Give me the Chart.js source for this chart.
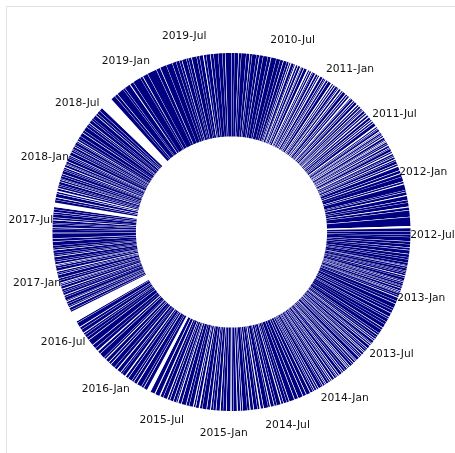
<!DOCTYPE html>
<html><head><meta charset="utf-8">
<script src="https://cdn.jsdelivr.net/npm/chart.js@4"></script>
<style>
html,body{margin:0;padding:0;background:#fff;overflow:hidden;}
#wrap{position:relative;width:455px;height:453px;}
#frame{position:absolute;left:6px;top:6px;width:460px;height:460px;border-left:1.5px solid #e2e2dc;border-top:1.5px solid #e2e2dc;}
canvas{position:absolute;left:0;top:0;}
</style></head><body>
<div id="wrap"><div id="frame"></div><canvas id="c" width="455" height="453"></canvas></div>
<script>
const startDate = '2010-01-05';
// lengths (days) of consecutive observed runs, clockwise from the top
const runDays = [
 9,12,7,15,10,6,13,8,11,14,9,16,12,9,10,
 6,4,8,3,5,7,2,6,9,4,5,3,7,6,4,8,5,3,6,10,4,5,7,3,6,4,9,5,6,3,7,4,8,5,6,4,3,7,5,6,8,4,5,10,
 4,3,6,2,5,3,4,7,3,2,5,4,6,3,8,4,5,3,6,4,9,5,12,8,9,
 14,6,18,5,9,12,7,12,8,20,28,
 9,11,6,13,8,10,7,12,9,6,10,7,2,5,7,3,4,6,5,8,3,4,6,2,5,7,4,3,6,5,11,8,13,7,9,12,6,10,8,11,7,12,6,7,
 6,4,8,3,5,9,4,6,3,7,5,4,10,3,6,5,8,4,3,7,6,4,9,5,3,6,8,4,5,7,3,6,4,9,5,6,4,8,12,10,14,11,16,7,
 9,6,12,7,10,5,14,8,6,11,9,7,13,5,8,10,6,12,9,7,11,8,6,10,13,7,9,5,12,8,14,9,4,
 8,10,6,12,9,14,14,11,7,15,9,6,13,8,10,5,12,9,14,7,11,6,16,8,10,12,18,9,
 9,6,11,8,14,5,5,8,4,7,6,3,9,5,7,4,6,8,5,3,7,6,10,4,5,8,6,3,7,5,9,4,6,8,5,7,12,8,15,3,
 7,5,9,4,8,6,10,5,7,7,8,6,10,5,7,6,4,8,5,3,7,6,9,4,5,7,3,6,8,5,4,10,6,3,7,5,8,4,6,9,12,7,13,
 8,5,10,6,12,7,9,11,14,9,22,6,18,11,25,8,16,30,12,20,19,12,
 10,7,13,6,9,15,8,11,7,12,9,14,12,8,18
];
// lengths (days) of the missing stretch following each run
const gapDays = [
 1,2,1,1,2,1,1,2,1,1,2,1,1,2,1,
 2,3,1,4,2,3,1,2,5,2,3,1,3,2,4,2,1,3,2,4,3,2,1,3,4,2,3,2,5,1,3,2,4,2,3,1,3,2,4,3,2,3,2,5,
 2,1,3,2,1,2,3,1,2,2,1,3,2,1,2,4,1,2,3,1,2,3,2,3,1,
 2,3,1,2,3,2,1,3,2,2,7,
 1,1,1,1,1,1,1,1,1,1,1,1,2,1,1,1,1,2,1,1,2,1,1,1,2,1,1,1,1,2,1,2,1,1,2,1,1,1,1,2,1,1,2,1,
 2,2,1,2,2,2,1,2,2,2,1,2,2,2,2,1,2,2,2,1,2,2,2,2,1,2,2,2,1,2,2,2,1,2,2,2,1,2,2,2,2,2,2,1,
 2,3,1,2,3,1,2,4,1,2,3,1,2,2,3,1,4,2,1,3,2,1,3,2,1,4,2,3,1,2,2,3,1,
 2,2,3,1,4,3,13,2,1,3,2,1,2,4,1,2,3,1,2,2,3,1,2,4,1,2,2,1,
 1,2,1,2,1,35,1,2,1,1,2,1,1,3,1,1,2,1,1,2,1,1,2,1,3,1,1,2,1,1,2,1,1,2,1,1,1,2,1,1,
 1,2,1,1,2,1,1,2,1,15,1,3,2,4,2,1,1,2,1,1,1,2,1,1,3,1,1,2,1,1,2,1,1,1,2,1,1,2,1,1,2,1,1,
 1,2,1,1,2,1,1,42,1,2,1,1,3,1,1,2,1,1,2,1,1,1,
 1,2,1,1,2,1,1,3,1,2,1,1,1,2,1
];
const tickLabels = ['2010-Jul','2011-Jan','2011-Jul','2012-Jan','2012-Jul','2013-Jan','2013-Jul',
 '2014-Jan','2014-Jul','2015-Jan','2015-Jul','2016-Jan','2016-Jul','2017-Jan','2017-Jul',
 '2018-Jan','2018-Jul','2019-Jan','2019-Jul'];
const monthIdx = {Jan:0, Jul:6};

const values = [], colors = [];
runDays.forEach((r, i) => {
  values.push(r); colors.push('#000080');
  values.push(gapDays[i] || 0); colors.push('#ffffff');
});
const total = values.reduce((a, b) => a + b, 0);
const t0 = Date.parse(startDate + 'T00:00:00Z');
function dayOffset(lbl) {
  const [y, m] = lbl.split('-');
  return (Date.UTC(+y, monthIdx[m], 1) - t0) / 86400000;
}

const tickPlugin = {
  id: 'timeTicks',
  afterDraw(chart) {
    const arc = chart.getDatasetMeta(0).data[0];
    const {x, y, outerRadius} = arc.getProps(['x', 'y', 'outerRadius'], true);
    const ctx = chart.ctx;
    ctx.save();
    ctx.font = '10.7px "DejaVu Sans"';
    ctx.fillStyle = '#111111';
    ctx.textAlign = 'center';
    ctx.textBaseline = 'middle';
    tickLabels.forEach(l => {
      const a = -Math.PI / 2 + dayOffset(l) / total * 2 * Math.PI;
      const r = outerRadius * 1.123;
      ctx.fillText(l, x + Math.cos(a) * r, y + Math.sin(a) * r);
    });
    ctx.restore();
  }
};

new Chart(document.getElementById('c'), {
  type: 'doughnut',
  data: {
    labels: values.map((v, i) => String(i)),
    datasets: [{data: values, backgroundColor: colors, borderWidth: 0, hoverOffset: 0, offset: 0}]
  },
  options: {
    responsive: false,
    animation: false,
    radius: 179,
    cutout: '53.4%',
    layout: {padding: {left: 20, right: 12, top: 20, bottom: 9}},
    plugins: {legend: {display: false}, tooltip: {enabled: false}},
    events: []
  },
  plugins: [tickPlugin]
});
</script>
</body></html>
